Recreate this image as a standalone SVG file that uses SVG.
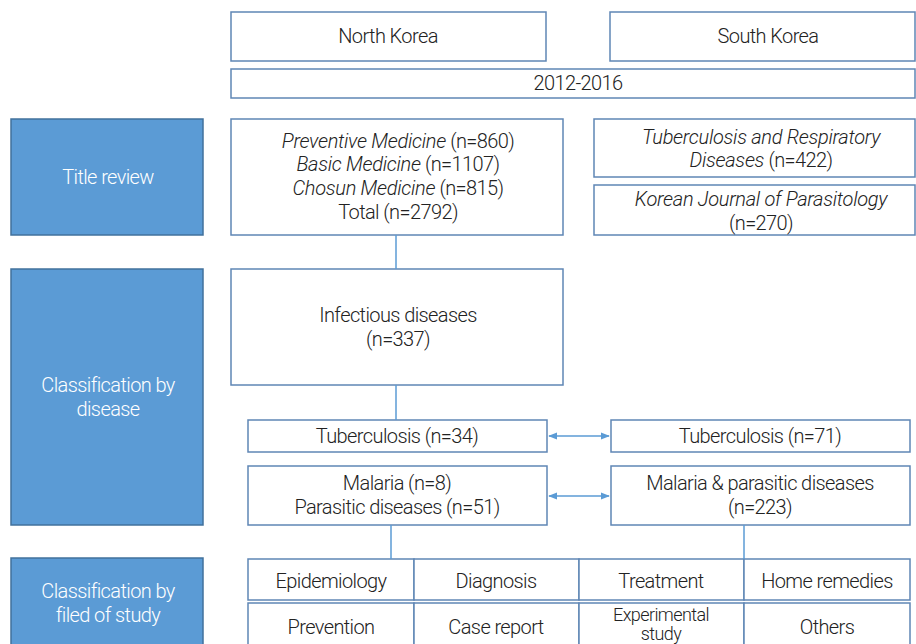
<svg xmlns="http://www.w3.org/2000/svg" width="916" height="644" viewBox="0 0 916 644">
<defs>
<style>
.box{fill:#fff;stroke:#5f86b5;stroke-width:1.5}
.blue{fill:#5b9bd5;stroke:#41719c;stroke-width:1.5}
text{font-family:Roboto,"Liberation Sans",sans-serif;font-size:20px;font-weight:300;fill:#222;text-anchor:middle;letter-spacing:-0.6px}
.w{fill:#fff}
.i{font-style:italic;letter-spacing:-0.3px}
.ln{stroke:#5b9bd5;stroke-width:1.5;fill:none}
</style>
<marker id="ah" viewBox="0 0 10 10" refX="9" refY="5" markerWidth="6" markerHeight="6" orient="auto-start-reverse">
<path d="M0,1 L10,5 L0,9 z" fill="#5b9bd5"/>
</marker>
</defs>
<rect width="916" height="644" fill="#fff"/>
<g id="north-korea"><rect class="box" x="231" y="12" width="315" height="49"/><text x="388" y="43">North Korea</text></g>
<g id="south-korea"><rect class="box" x="610" y="12" width="305" height="49"/><text x="768" y="43">South Korea</text></g>
<g id="years"><rect class="box" x="231" y="69" width="684" height="29"/><text x="578" y="90">2012-2016</text></g>
<g id="title-review"><rect class="blue" x="11" y="119" width="192" height="116"/><text class="w" x="108" y="184">Title review</text></g>
<g id="nk-journals"><rect class="box" x="231" y="119" width="332" height="116"/>
<text x="398" y="148"><tspan class="i">Preventive Medicine</tspan> (n=860)</text>
<text x="398" y="171"><tspan class="i">Basic Medicine</tspan> (n=1107)</text>
<text x="398" y="195"><tspan class="i">Chosun Medicine</tspan> (n=815)</text>
<text x="398" y="219">Total (n=2792)</text></g>
<g id="sk-tb-journal"><rect class="box" x="594" y="119" width="321" height="58"/>
<text class="i" x="761" y="144">Tuberculosis and Respiratory</text>
<text x="761" y="167"><tspan class="i">Diseases</tspan> (n=422)</text></g>
<g id="sk-para-journal"><rect class="box" x="594" y="185" width="321" height="50"/>
<text class="i" x="761" y="206">Korean Journal of Parasitology</text>
<text x="761" y="230">(n=270)</text></g>
<g id="class-disease"><rect class="blue" x="11" y="269" width="192" height="256"/>
<text class="w" x="108" y="392">Classification by</text><text class="w" x="108" y="416">disease</text></g>
<g id="infectious"><rect class="box" x="231" y="269" width="332" height="116"/>
<text x="398" y="322">Infectious diseases</text><text x="398" y="346">(n=337)</text></g>
<g id="nk-tb"><rect class="box" x="248" y="420" width="299" height="32"/><text x="397" y="443">Tuberculosis (n=34)</text></g>
<g id="sk-tb"><rect class="box" x="611" y="420" width="299" height="32"/><text x="760" y="443">Tuberculosis (n=71)</text></g>
<g id="nk-malaria"><rect class="box" x="248" y="466" width="299" height="59"/>
<text x="397" y="490">Malaria (n=8)</text><text x="397" y="514">Parasitic diseases (n=51)</text></g>
<g id="sk-malaria"><rect class="box" x="611" y="466" width="299" height="59"/>
<text x="760" y="490">Malaria &amp; parasitic diseases</text><text x="760" y="514">(n=223)</text></g>
<g id="class-field"><rect class="blue" x="11" y="558" width="192" height="90"/>
<text class="w" x="108" y="598">Classification by</text><text class="w" x="108" y="622">filed of study</text></g>
<g id="field-grid">
<g id="epidemiology"><rect class="box" x="248" y="559" width="166" height="41"/><text x="331" y="588">Epidemiology</text></g>
<g id="diagnosis"><rect class="box" x="414" y="559" width="165" height="41"/><text x="496" y="588">Diagnosis</text></g>
<g id="treatment"><rect class="box" x="579" y="559" width="165" height="41"/><text x="661" y="588">Treatment</text></g>
<g id="home-remedies"><rect class="box" x="744" y="559" width="166" height="41"/><text x="827" y="588">Home remedies</text></g>
<g id="prevention"><rect class="box" x="248" y="603" width="166" height="45"/><text x="331" y="634">Prevention</text></g>
<g id="case-report"><rect class="box" x="414" y="603" width="165" height="45"/><text x="496" y="634">Case report</text></g>
<g id="experimental"><rect class="box" x="579" y="603" width="165" height="45"/><text x="661" y="621" style="font-size:18px">Experimental</text><text x="661" y="640" style="font-size:18px">study</text></g>
<g id="others"><rect class="box" x="744" y="603" width="166" height="45"/><text x="827" y="634">Others</text></g>
</g>
<g id="connectors">
<line class="ln" x1="396" y1="235" x2="396" y2="269"/>
<line class="ln" x1="396" y1="385" x2="396" y2="420"/>
<line class="ln" x1="549" y1="436" x2="609" y2="436" marker-start="url(#ah)" marker-end="url(#ah)"/>
<line class="ln" x1="549" y1="496" x2="609" y2="496" marker-start="url(#ah)" marker-end="url(#ah)"/>
<line class="ln" x1="391" y1="525" x2="391" y2="559"/>
<line class="ln" x1="744" y1="525" x2="744" y2="559"/>
</g>
</svg>
